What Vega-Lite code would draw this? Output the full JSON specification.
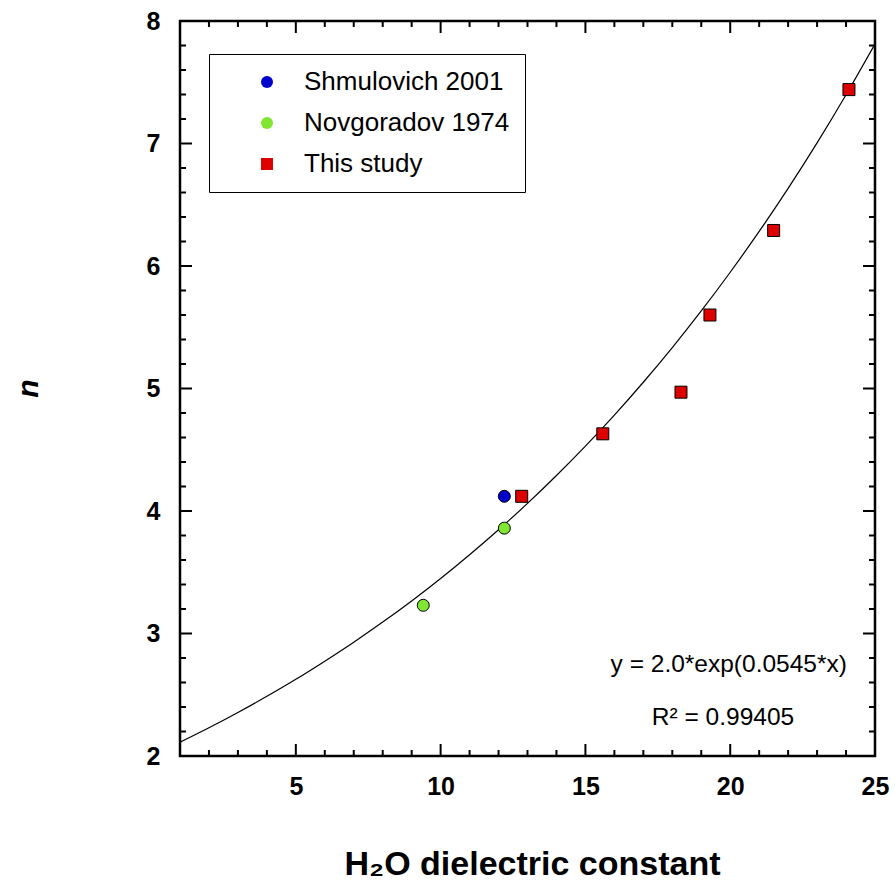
{
  "$schema": "https://vega.github.io/schema/vega-lite/v6.json",
  "width": 695,
  "height": 735,
  "autosize": {"type": "none"},
  "padding": {"left": 180, "top": 21, "right": 20, "bottom": 138},
  "background": "white",
  "config": {
    "view": {"stroke": "black", "strokeWidth": 2.5},
    "font": "Liberation Sans",
    "axis": {"domainColor": "black", "tickColor": "black", "grid": false, "labelColor": "black", "titleColor": "black"}
  },
  "datasets": {
    "fit": [
      {"eps": 1, "n": 2.112}, {"eps": 2, "n": 2.230}, {"eps": 3, "n": 2.355}, {"eps": 4, "n": 2.487},
      {"eps": 5, "n": 2.626}, {"eps": 6, "n": 2.774}, {"eps": 7, "n": 2.929}, {"eps": 8, "n": 3.093},
      {"eps": 9, "n": 3.266}, {"eps": 10, "n": 3.449}, {"eps": 11, "n": 3.643}, {"eps": 12, "n": 3.847},
      {"eps": 13, "n": 4.062}, {"eps": 14, "n": 4.290}, {"eps": 15, "n": 4.530}, {"eps": 16, "n": 4.783},
      {"eps": 17, "n": 5.051}, {"eps": 18, "n": 5.334}, {"eps": 19, "n": 5.633}, {"eps": 20, "n": 5.949},
      {"eps": 21, "n": 6.282}, {"eps": 22, "n": 6.634}, {"eps": 23, "n": 7.005}, {"eps": 24, "n": 7.398},
      {"eps": 25, "n": 7.812}
    ],
    "obs": [
      {"source": "Shmulovich 2001", "eps": 12.2, "n": 4.12},
      {"source": "Novgoradov 1974", "eps": 9.4, "n": 3.23},
      {"source": "Novgoradov 1974", "eps": 12.2, "n": 3.86},
      {"source": "This study", "eps": 12.8, "n": 4.12},
      {"source": "This study", "eps": 15.6, "n": 4.63},
      {"source": "This study", "eps": 18.3, "n": 4.97},
      {"source": "This study", "eps": 19.3, "n": 5.60},
      {"source": "This study", "eps": 21.5, "n": 6.29},
      {"source": "This study", "eps": 24.1, "n": 7.44}
    ],
    "xTicks": [
      {"eps": 1, "kind": "minor"}, {"eps": 2, "kind": "minor"}, {"eps": 3, "kind": "minor"}, {"eps": 4, "kind": "minor"},
      {"eps": 5, "kind": "major"}, {"eps": 6, "kind": "minor"}, {"eps": 7, "kind": "minor"}, {"eps": 8, "kind": "minor"},
      {"eps": 9, "kind": "minor"}, {"eps": 10, "kind": "major"}, {"eps": 11, "kind": "minor"}, {"eps": 12, "kind": "minor"},
      {"eps": 13, "kind": "minor"}, {"eps": 14, "kind": "minor"}, {"eps": 15, "kind": "major"}, {"eps": 16, "kind": "minor"},
      {"eps": 17, "kind": "minor"}, {"eps": 18, "kind": "minor"}, {"eps": 19, "kind": "minor"}, {"eps": 20, "kind": "major"},
      {"eps": 21, "kind": "minor"}, {"eps": 22, "kind": "minor"}, {"eps": 23, "kind": "minor"}, {"eps": 24, "kind": "minor"}
    ],
    "yTicks": [
      {"n": 2.2, "kind": "minor"}, {"n": 2.4, "kind": "minor"}, {"n": 2.6, "kind": "minor"}, {"n": 2.8, "kind": "minor"},
      {"n": 3, "kind": "major"}, {"n": 3.2, "kind": "minor"}, {"n": 3.4, "kind": "minor"}, {"n": 3.6, "kind": "minor"},
      {"n": 3.8, "kind": "minor"}, {"n": 4, "kind": "major"}, {"n": 4.2, "kind": "minor"}, {"n": 4.4, "kind": "minor"},
      {"n": 4.6, "kind": "minor"}, {"n": 4.8, "kind": "minor"}, {"n": 5, "kind": "major"}, {"n": 5.2, "kind": "minor"},
      {"n": 5.4, "kind": "minor"}, {"n": 5.6, "kind": "minor"}, {"n": 5.8, "kind": "minor"}, {"n": 6, "kind": "major"},
      {"n": 6.2, "kind": "minor"}, {"n": 6.4, "kind": "minor"}, {"n": 6.6, "kind": "minor"}, {"n": 6.8, "kind": "minor"},
      {"n": 7, "kind": "major"}, {"n": 7.2, "kind": "minor"}, {"n": 7.4, "kind": "minor"}, {"n": 7.6, "kind": "minor"},
      {"n": 7.8, "kind": "minor"}
    ],
    "equation": [{"eps": 19.95, "n": 2.74, "label": "y = 2.0*exp(0.0545*x)"}],
    "fitQuality": [{"eps": 19.75, "n": 2.31, "label": "R² = 0.99405"}]
  },
  "resolve": {"axis": {"x": "independent", "y": "independent"}},
  "layer": [
    {
      "data": {"name": "fit"},
      "mark": {"type": "line", "color": "black", "strokeWidth": 1.2, "interpolate": "monotone", "clip": true},
      "encoding": {
        "x": {
          "field": "eps", "type": "quantitative",
          "scale": {"domain": [1, 25], "nice": false, "zero": false},
          "axis": {
            "orient": "bottom", "values": [5, 10, 15, 20, 25],
            "ticks": false, "tickSize": 0, "domain": false,
            "labelPadding": 18, "labelFontSize": 25, "labelFontWeight": "bold", "labelFlush": false,
            "title": "H₂O dielectric constant", "titleFontSize": 34, "titleFontWeight": "bold",
            "titleX": 352, "titleY": 118, "titleBaseline": "alphabetic"
          }
        },
        "y": {
          "field": "n", "type": "quantitative",
          "scale": {"domain": [2, 8], "nice": false, "zero": false},
          "axis": {
            "orient": "left", "values": [2, 3, 4, 5, 6, 7, 8],
            "ticks": false, "tickSize": 0, "domain": false,
            "labelPadding": 20, "labelFontSize": 25, "labelFontWeight": "bold", "labelFlush": false,
            "title": "n", "titleFontSize": 30, "titleFontWeight": "bold", "titleFontStyle": "italic",
            "titleX": -152, "titleY": 367, "titleAngle": -90, "titleBaseline": "middle", "titleAlign": "center"
          }
        }
      }
    },
    {
      "data": {"name": "xTicks"},
      "mark": {"type": "tick", "orient": "vertical", "color": "black", "thickness": 2, "opacity": 1, "clip": true},
      "encoding": {
        "x": {"field": "eps", "type": "quantitative", "axis": null},
        "y": {"datum": 2, "type": "quantitative", "axis": null},
        "size": {"field": "kind", "type": "ordinal", "scale": {"domain": ["major", "minor"], "range": [24, 12]}, "legend": null}
      }
    },
    {
      "data": {"name": "xTicks"},
      "mark": {"type": "tick", "orient": "vertical", "color": "black", "thickness": 2, "opacity": 1, "clip": true},
      "encoding": {
        "x": {"field": "eps", "type": "quantitative", "axis": null},
        "y": {"datum": 8, "type": "quantitative", "axis": null},
        "size": {"field": "kind", "type": "ordinal", "scale": {"domain": ["major", "minor"], "range": [24, 12]}, "legend": null}
      }
    },
    {
      "data": {"name": "yTicks"},
      "mark": {"type": "tick", "orient": "horizontal", "color": "black", "thickness": 2, "opacity": 1, "clip": true},
      "encoding": {
        "y": {"field": "n", "type": "quantitative", "axis": null},
        "x": {"datum": 1, "type": "quantitative", "axis": null},
        "size": {"field": "kind", "type": "ordinal", "scale": {"domain": ["major", "minor"], "range": [24, 14]}, "legend": null}
      }
    },
    {
      "data": {"name": "yTicks"},
      "mark": {"type": "tick", "orient": "horizontal", "color": "black", "thickness": 2, "opacity": 1, "clip": true},
      "encoding": {
        "y": {"field": "n", "type": "quantitative", "axis": null},
        "x": {"datum": 25, "type": "quantitative", "axis": null},
        "size": {"field": "kind", "type": "ordinal", "scale": {"domain": ["major", "minor"], "range": [24, 14]}, "legend": null}
      }
    },
    {
      "data": {"name": "obs"},
      "mark": {"type": "point", "filled": true, "size": 144, "stroke": "black", "strokeWidth": 1, "opacity": 1},
      "encoding": {
        "x": {"field": "eps", "type": "quantitative", "axis": null},
        "y": {"field": "n", "type": "quantitative", "axis": null},
        "fill": {
          "field": "source", "type": "nominal",
          "scale": {"domain": ["Shmulovich 2001", "Novgoradov 1974", "This study"], "range": ["#0000CC", "#80E632", "#DD0000"]},
          "legend": {
            "title": null, "orient": "none", "legendX": 29, "legendY": 33,
            "strokeColor": "black", "fillColor": "white", "padding": 15,
            "labelFontSize": 26, "labelColor": "black", "labelOffset": 24, "labelLimit": 400,
            "symbolOffset": 30, "symbolSize": 144, "symbolStrokeColor": "black", "symbolStrokeWidth": 1,
            "rowPadding": 15
          }
        },
        "shape": {
          "field": "source", "type": "nominal",
          "scale": {"domain": ["Shmulovich 2001", "Novgoradov 1974", "This study"], "range": ["circle", "circle", "square"]},
          "legend": {
            "title": null, "orient": "none", "legendX": 29, "legendY": 33,
            "strokeColor": "black", "fillColor": "white", "padding": 15,
            "labelFontSize": 26, "labelColor": "black", "labelOffset": 24, "labelLimit": 400,
            "symbolOffset": 30, "symbolSize": 144, "symbolStrokeColor": "black", "symbolStrokeWidth": 1,
            "rowPadding": 15
          }
        }
      }
    },
    {
      "data": {"name": "equation"},
      "mark": {"type": "text", "fontSize": 24.5, "color": "black", "align": "center", "baseline": "middle"},
      "encoding": {
        "x": {"field": "eps", "type": "quantitative", "axis": null},
        "y": {"field": "n", "type": "quantitative", "axis": null},
        "text": {"field": "label"}
      }
    },
    {
      "data": {"name": "fitQuality"},
      "mark": {"type": "text", "fontSize": 24.5, "color": "black", "align": "center", "baseline": "middle"},
      "encoding": {
        "x": {"field": "eps", "type": "quantitative", "axis": null},
        "y": {"field": "n", "type": "quantitative", "axis": null},
        "text": {"field": "label"}
      }
    }
  ]
}
